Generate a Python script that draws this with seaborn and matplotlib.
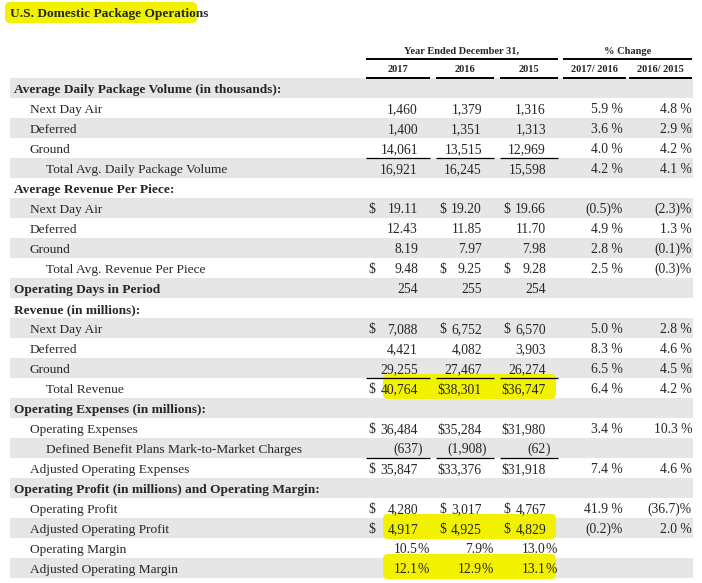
import re
import numpy as np
import pandas as pd
import matplotlib
matplotlib.use("Agg")
import matplotlib.pyplot as plt
import seaborn as sns
from matplotlib.colors import ListedColormap
from matplotlib.patches import FancyBboxPatch

# ---- data -----------------------------------------------------------
title = "U.S. Domestic Package Operations"
years = ["2017", "2016", "2015"]
changes = ["2017/ 2016", "2016/ 2015"]

labels = [
    "Average Daily Package Volume (in thousands):",
    "Next Day Air", "Deferred", "Ground", "Total Avg. Daily Package Volume",
    "Average Revenue Per Piece:",
    "Next Day Air", "Deferred", "Ground", "Total Avg. Revenue Per Piece",
    "Operating Days in Period",
    "Revenue (in millions):",
    "Next Day Air", "Deferred", "Ground", "Total Revenue",
    "Operating Expenses (in millions):",
    "Operating Expenses", "Defined Benefit Plans Mark-to-Market Charges",
    "Adjusted Operating Expenses",
    "Operating Profit (in millions) and Operating Margin:",
    "Operating Profit", "Adjusted Operating Profit", "Operating Margin",
    "Adjusted Operating Margin",
]
level = [0, 1, 1, 1, 2, 0, 1, 1, 1, 2, 0, 0, 1, 1, 1, 2, 0, 1, 2, 1, 0, 1, 1, 1, 1]

v2017 = ["", "1,460", "1,400", "14,061", "16,921", "", "19.11", "12.43", "8.19", "9.48",
         "254", "", "7,088", "4,421", "29,255", "40,764", "", "36,484", "(637)", "35,847",
         "", "4,280", "4,917", "10.5%", "12.1%"]
v2016 = ["", "1,379", "1,351", "13,515", "16,245", "", "19.20", "11.85", "7.97", "9.25",
         "255", "", "6,752", "4,082", "27,467", "38,301", "", "35,284", "(1,908)", "33,376",
         "", "3,017", "4,925", "7.9%", "12.9%"]
v2015 = ["", "1,316", "1,313", "12,969", "15,598", "", "19.66", "11.70", "7.98", "9.28",
         "254", "", "6,570", "3,903", "26,274", "36,747", "", "31,980", "(62)", "31,918",
         "", "4,767", "4,829", "13.0%", "13.1%"]
chg_17_16 = ["", "5.9 %", "3.6 %", "4.0 %", "4.2 %", "", "(0.5)%", "4.9 %", "2.8 %", "2.5 %",
             "", "", "5.0 %", "8.3 %", "6.5 %", "6.4 %", "", "3.4 %", "", "7.4 %",
             "", "41.9 %", "(0.2)%", "", ""]
chg_16_15 = ["", "4.8 %", "2.9 %", "4.2 %", "4.1 %", "", "(2.3)%", "1.3 %", "(0.1)%", "(0.3)%",
             "", "", "2.8 %", "4.6 %", "4.5 %", "4.2 %", "", "10.3 %", "", "4.6 %",
             "", "(36.7)%", "2.0 %", "", ""]

dollar_rows = [6, 9, 12, 15, 17, 19, 21, 22]
underline_rows = [4, 15, 19]        # rule above these rows
highlight_rows = [15, 22, 24]

# ---- layout (pixels) ------------------------------------------------
W, H = 702, 583
top, rh = 78, 20
year_seg = [(366, 430), (436, 494), (500, 558)]
year_right = [418, 482, 546]
year_dollar = [368, 439, 503]
chg_seg = [(563, 626), (629, 692)]
chg_right = [623, 692]
indent = [14, 30, 46]
fs_lab = 9.6
fs_num = 9.8

sns.set_theme(style="white")
plt.rcParams["font.family"] = ["Liberation Serif", "DejaVu Serif"]

fig = plt.figure(figsize=(W / 100, H / 100), dpi=100)

# alternating row shading
band = fig.add_axes([10 / W, (H - top - rh * len(labels)) / H, 683 / W, rh * len(labels) / H])
stripes = pd.DataFrame({"band": [1 - i % 2 for i in range(len(labels))]})
sns.heatmap(stripes, ax=band, cmap=ListedColormap(["white", "#e6e6e6"]), vmin=0, vmax=1,
            cbar=False, xticklabels=False, yticklabels=False)

ax = fig.add_axes([0, 0, 1, 1])
ax.set_xlim(0, W)
ax.set_ylim(H, 0)
ax.axis("off")

def base(i):
    return top + rh * i + 15

def hl(x0, x1, y0, y1):
    ax.add_patch(FancyBboxPatch((x0, y0), x1 - x0, y1 - y0,
                                boxstyle="round,pad=0,rounding_size=5",
                                fc="#f2f200", ec="none", zorder=1))

# title
hl(5, 197, 2, 23)
ax.text(10, 17, title, fontsize=fs_lab, fontweight="bold", va="baseline", zorder=3)

# headers
ax.text((366 + 558) / 2, 54, "Year Ended December 31,", fontsize=7.5, fontweight="bold",
        ha="center", va="baseline")
ax.text((563 + 692) / 2, 54, "% Change", fontsize=7.5, fontweight="bold",
        ha="center", va="baseline")
ax.plot([366, 558], [59, 59], color="black", lw=1.4, solid_capstyle="butt")
ax.plot([563, 692], [59, 59], color="black", lw=1.4, solid_capstyle="butt")
for (a, b), t in zip(year_seg + chg_seg, years + changes):
    ax.text((a + b) / 2, 72, t, fontsize=7.5, fontweight="bold", ha="center", va="baseline")
    ax.plot([a, b], [77.5, 77.5], color="black", lw=1.4, solid_capstyle="butt")

# highlights behind values
for i in highlight_rows:
    y0 = top + rh * i
    hl(383, 556, y0 - 4, y0 + rh + 1)

# rules
for i in underline_rows:
    y = top + rh * i
    for a, b in year_seg:
        ax.plot([a, b], [y, y], color="black", lw=0.9, solid_capstyle="butt", zorder=2)

# labels
for i, (lab, lv) in enumerate(zip(labels, level)):
    ax.text(indent[lv], base(i), lab, fontsize=fs_lab, va="baseline",
            fontweight="bold" if lv == 0 else "normal", zorder=3)

# year columns
for c, col in enumerate([v2017, v2016, v2015]):
    for i, s in enumerate(col):
        if not s:
            continue
        m = re.match(r"^(.*\d)(\D*)$", s)
        body, suf = m.group(1), m.group(2)
        dollar = i in dollar_rows
        if dollar and c > 0 and len(body) >= 6:
            # wide amounts sit right against the sign
            body, dollar = "$" + body, False
        ax.text(year_right[c], base(i), body, fontsize=fs_num, ha="right", va="baseline", zorder=3)
        if suf:
            ax.text(year_right[c], base(i), suf, fontsize=fs_num, ha="left", va="baseline", zorder=3)
        if dollar:
            ax.text(year_dollar[c], base(i), "$", fontsize=fs_num, ha="left", va="baseline", zorder=3)

# percent change columns
for c, col in enumerate([chg_17_16, chg_16_15]):
    for i, s in enumerate(col):
        if s:
            ax.text(chg_right[c], base(i), s, fontsize=fs_num, ha="right", va="baseline", zorder=3)

fig.savefig("out.png", dpi=100)
